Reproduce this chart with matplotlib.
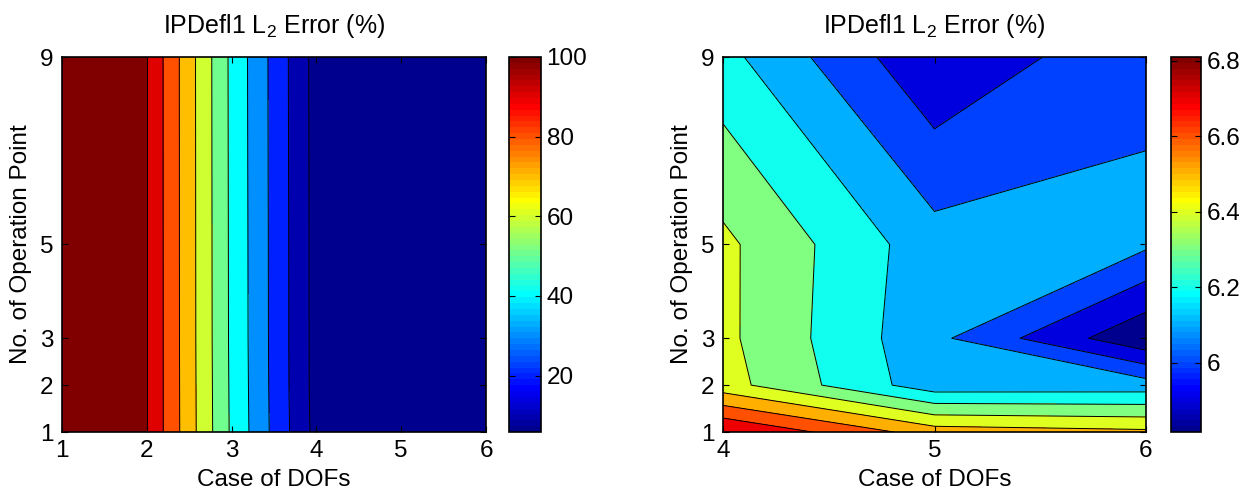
import numpy as np
import matplotlib
matplotlib.use("Agg")
import matplotlib.pyplot as plt
from matplotlib.colors import ListedColormap, Normalize
from matplotlib.cm import ScalarMappable
from matplotlib.ticker import FuncFormatter

plt.rcParams['font.family'] = ['Liberation Sans', 'DejaVu Sans']
plt.rcParams['mathtext.fontset'] = 'custom'
plt.rcParams['mathtext.rm'] = 'Liberation Sans'
plt.rcParams['mathtext.it'] = 'Liberation Sans:italic'
plt.rcParams['mathtext.bf'] = 'Liberation Sans:bold'

# ---------------- data ----------------
dof_cases = [1, 2, 3, 4, 5, 6]
op_points = [1, 2, 3, 5, 9]
# L2 error (%) for each DOF case, listed by operation point (1, 2, 3, 5, 9)
err_dof1 = [100.0, 100.0, 100.0, 100.0, 100.0]
err_dof2 = [100.0, 100.0, 100.0, 100.0, 100.0]
err_dof3 = [48.5, 48.3, 48.1, 48.0, 47.8]
err_dof4 = [6.81, 6.44, 6.424, 6.423, 6.232]
err_dof5 = [6.55, 6.14, 6.125, 6.14, 5.913]
err_dof6 = [6.52, 6.146, 5.816, 6.117, 6.083]

left_cbar_ticks = [20, 40, 60, 80, 100]
right_cbar_ticks = [6.0, 6.2, 6.4, 6.6, 6.8]
left_levels = [10, 20, 30, 40, 50, 60, 70, 80, 90, 99.999]
right_levels = [5.9, 6.0, 6.1, 6.2, 6.3, 6.4, 6.5, 6.6, 6.7]
title = r"IPDefl1 L$_2$ Error (%)"
xlabel = "Case of DOFs"
ylabel = "No. of Operation Point"

# ---------------- MATLAB jet(64) ----------------
def matlab_jet(n=64):
    m = int(np.ceil(n / 4))
    u = np.concatenate([np.arange(1, m + 1) / m, np.ones(m - 1), np.arange(m, 0, -1) / m])
    g = int(np.ceil(m / 2)) - (1 if n % 4 == 1 else 0) + np.arange(1, len(u) + 1)
    r = g + m
    b = g - m
    J = np.zeros((n, 3))
    for ch, idxs in enumerate((r, g, b)):
        for idx, val in zip(idxs, u):
            if 1 <= idx <= n:
                J[idx - 1, ch] = val
    return ListedColormap(J)

cmap = matlab_jet(64)

Z = np.column_stack([err_dof1, err_dof2, err_dof3, err_dof4, err_dof5, err_dof6])

FS = 17.5
fig = plt.figure(figsize=(12.48, 4.94), dpi=100)
W, H = 1248, 494

def px_axes(x0, x1, y0, y1):
    return fig.add_axes([x0 / W, (H - y1) / H, (x1 - x0) / W, (y1 - y0) / H])

def draw(ax, cax, xs, Zs, levels, cticks):
    Xs, Ys = np.meshgrid(xs, op_points)
    zmin, zmax = Zs.min(), Zs.max()
    norm = Normalize(vmin=zmin, vmax=zmax)
    fill_levels = [zmin - 1.0] + list(levels) + [zmax + 1.0]
    lowers = [zmin] + list(levels)
    colors = [cmap(norm(v)) for v in lowers]
    ax.contourf(Xs, Ys, Zs, levels=fill_levels, colors=colors)
    ax.contour(Xs, Ys, Zs, levels=levels, colors='k', linewidths=0.7)
    ax.set_xlim(min(xs), max(xs))
    ax.set_ylim(1, 9)
    ax.set_xticks(xs)
    ax.set_yticks(op_points)
    ax.tick_params(direction='in', top=True, right=True, length=4, width=0.8,
                   labelsize=FS, pad=6)
    for s in ax.spines.values():
        s.set_linewidth(1.2)
    ax.set_title(title, fontsize=18, pad=17)
    ax.set_xlabel(xlabel, fontsize=FS, labelpad=5)
    ax.set_ylabel(ylabel, fontsize=FS, labelpad=6)

    sm = ScalarMappable(norm=norm, cmap=cmap)
    cb = fig.colorbar(sm, cax=cax, ticks=cticks)
    cb.ax.yaxis.set_major_formatter(FuncFormatter(lambda v, p: f"{v:g}"))
    cb.ax.tick_params(direction='in', left=True, right=True, length=4, width=0.8,
                      labelsize=FS, pad=4)
    cb.outline.set_linewidth(1.2)

ax1 = px_axes(62, 486, 57, 432)
cax1 = px_axes(509, 541, 57, 432)
draw(ax1, cax1, dof_cases, Z, left_levels, left_cbar_ticks)

ax2 = px_axes(723, 1146, 57, 432)
cax2 = px_axes(1171, 1201, 57, 432)
draw(ax2, cax2, dof_cases[3:], Z[:, 3:], right_levels, right_cbar_ticks)

fig.savefig("out.png", dpi=100)
